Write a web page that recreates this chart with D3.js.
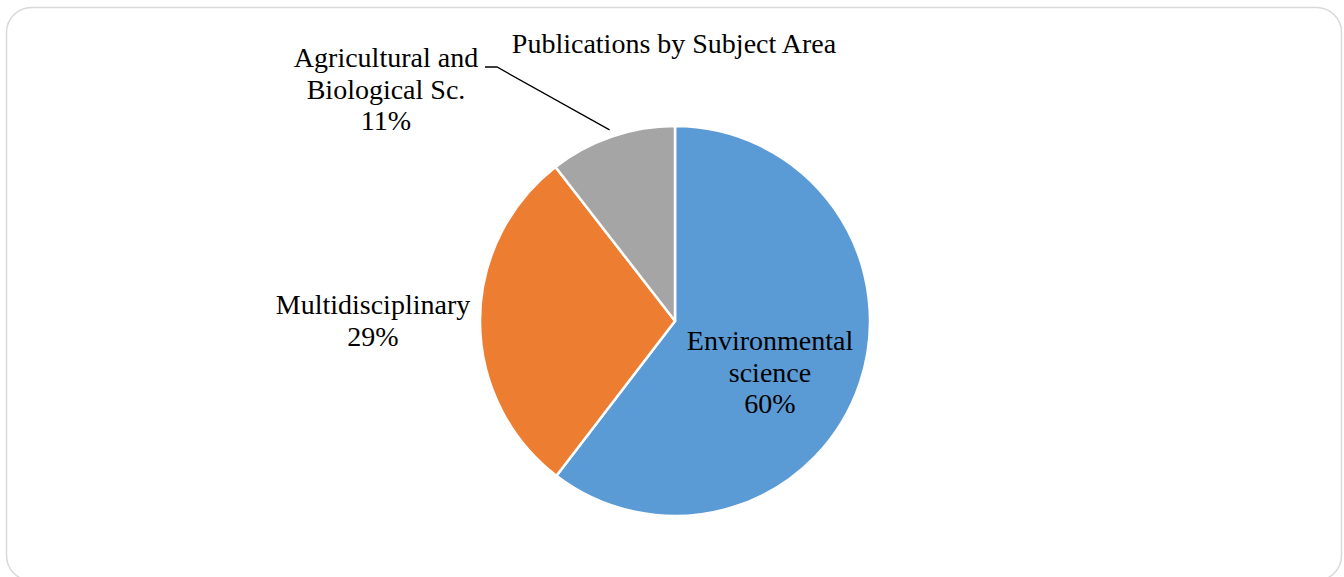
<!DOCTYPE html>
<html>
<head>
<meta charset="utf-8">
<script src="https://cdn.jsdelivr.net/npm/d3@7"></script>
<style>
  html, body { margin: 0; padding: 0; background: #ffffff; }
  svg { display: block; }
</style>
</head>
<body>
<svg id="chart" width="1344" height="577"></svg>
<script>
// ---- data ----
const title = "Publications by Subject Area";
const categories = ["Environmental science", "Multidisciplinary", "Agricultural and Biological Sc."];
const labelLines = [["Environmental", "science"], ["Multidisciplinary"], ["Agricultural and", "Biological Sc."]];
const values = [60.4, 29.1, 10.5];
const colors = ["#5B9BD5", "#ED7D31", "#A5A5A5"];

// ---- layout ----
const W = 1344, H = 577;
const cx = 675, cy = 321, R = 195;
const font = "'Liberation Serif', 'Times New Roman', serif";
const fontSize = 28, lineH = 31.7;
// label block centre (x) and first baseline (y) relative to pie centre
const labelPos = [
  { dx: 95, dy: 29 },
  { dx: -302, dy: -7 },
  { dx: -289, dy: -254 }
];

const svg = d3.select("#chart");

svg.append("rect")
  .attr("x", 6.5).attr("y", 7.5)
  .attr("width", 1335).attr("height", 573)
  .attr("rx", 25).attr("ry", 25)
  .attr("fill", "#ffffff")
  .attr("stroke", "#d9d9d9")
  .attr("stroke-width", 1.5);

svg.append("text")
  .attr("x", 674).attr("y", 53)
  .attr("text-anchor", "middle")
  .attr("font-family", font)
  .attr("font-size", fontSize)
  .attr("fill", "#000")
  .text(title);

const total = d3.sum(values);
const pie = d3.pie().sort(null).value(d => d)(values);
const arc = d3.arc().innerRadius(0).outerRadius(R);

const g = svg.append("g").attr("transform", `translate(${cx},${cy})`);

g.selectAll("path.slice")
  .data(pie)
  .join("path")
  .attr("class", "slice")
  .attr("d", arc)
  .attr("fill", (d, i) => colors[i])
  .attr("stroke", "#ffffff")
  .attr("stroke-width", 2.5)
  .attr("stroke-linejoin", "round");

// leader line for the small slice
const leaderArc = d3.arc().innerRadius(202).outerRadius(202);
const tip = leaderArc.centroid(pie[2]);
const lp = labelPos[2];
const startX = lp.dx + 99, startY = lp.dy;
g.append("polyline")
  .attr("points", [[startX, startY], [startX + 12, startY], tip].map(p => p.join(",")).join(" "))
  .attr("fill", "none")
  .attr("stroke", "#000")
  .attr("stroke-width", 1.3);

pie.forEach((d, i) => {
  const lines = labelLines[i].concat([Math.round(values[i] / total * 100) + "%"]);
  const t = g.append("text")
    .attr("text-anchor", "middle")
    .attr("font-family", font)
    .attr("font-size", fontSize)
    .attr("fill", "#000");
  lines.forEach((ln, k) => {
    t.append("tspan")
      .attr("x", labelPos[i].dx)
      .attr("y", labelPos[i].dy + k * lineH)
      .text(ln);
  });
});
</script>
</body>
</html>
